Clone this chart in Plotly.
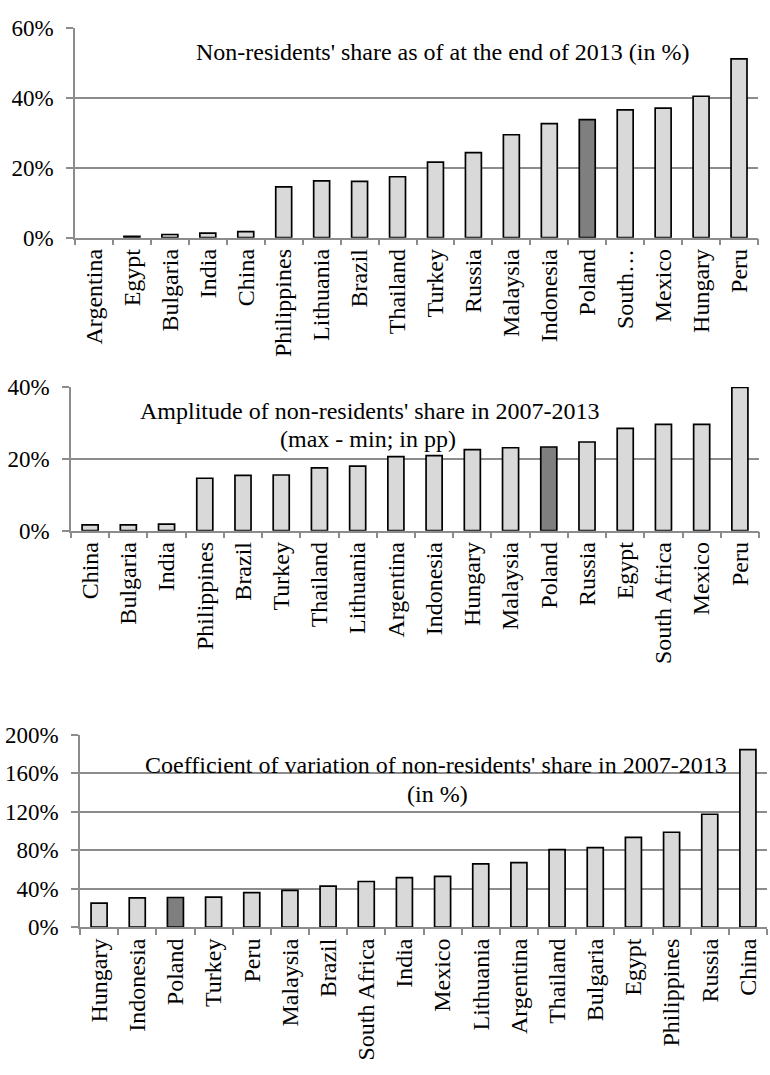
import plotly.graph_objects as go

# Non-residents' share at the end of 2013 (%)
share_countries = ["Argentina", "Egypt", "Bulgaria", "India", "China", "Philippines",
                   "Lithuania", "Brazil", "Thailand", "Turkey", "Russia", "Malaysia",
                   "Indonesia", "Poland", "South Africa", "Mexico", "Hungary", "Peru"]
share_values = [0.0, 0.4, 0.9, 1.3, 1.7, 14.5, 16.2, 16.1, 17.4, 21.6, 24.3, 29.4,
                32.6, 33.7, 36.5, 37.0, 40.4, 51.1]
share_ticktext = [c if c != "South Africa" else "South\u2026" for c in share_countries]

# Amplitude of non-residents' share 2007-2013 (max - min, pp)
amp_countries = ["China", "Bulgaria", "India", "Philippines", "Brazil", "Turkey",
                 "Thailand", "Lithuania", "Argentina", "Indonesia", "Hungary", "Malaysia",
                 "Poland", "Russia", "Egypt", "South Africa", "Mexico", "Peru"]
amp_values = [1.6, 1.6, 1.8, 14.6, 15.4, 15.5, 17.5, 18.0, 20.6, 20.9, 22.6, 23.1,
              23.3, 24.7, 28.5, 29.6, 29.6, 39.9]

# Coefficient of variation of non-residents' share 2007-2013 (%)
cv_countries = ["Hungary", "Indonesia", "Poland", "Turkey", "Peru", "Malaysia", "Brazil",
                "South Africa", "India", "Mexico", "Lithuania", "Argentina", "Thailand",
                "Bulgaria", "Egypt", "Philippines", "Russia", "China"]
cv_values = [25.1, 30.5, 30.9, 31.2, 36.0, 38.3, 42.7, 47.5, 51.6, 52.9, 65.8, 67.1,
             80.7, 82.8, 93.3, 98.7, 117.4, 184.5]

# y-axis ticks (%)
share_ticks = [0, 20, 40, 60]
amp_ticks = [0, 20, 40]
cv_ticks = [0, 40, 80, 120, 160, 200]

highlight = "Poland"

W, H = 770, 1075
FONT = "Liberation Serif, Times New Roman, serif"
GRID = "#8c8c8c"
FILL = "#d9d9d9"
FILL_HI = "#7f7f7f"


def px_x(x0, x1):
    return [x0 / W, x1 / W]


def px_y(top, bottom):
    return [1 - bottom / H, 1 - top / H]


panels = [
    # countries, values, category tick text, x-domain px, y-domain px, y ticks
    (share_countries, share_values, share_ticktext, (75, 758), (16, 231), share_ticks),
    (amp_countries, amp_values, amp_countries, (71, 759), (384, 531), amp_ticks),
    (cv_countries, cv_values, cv_countries, (80, 767), (740, 937), cv_ticks),
]

fig = go.Figure()
layout = {}
for i, (cats, vals, ttext, xd, yd, tv) in enumerate(panels, start=1):
    sfx = "" if i == 1 else str(i)
    colors = [FILL_HI if c == highlight else FILL for c in cats]
    # a zero-height bar leaves no visible outline
    widths = [1.7 if v > 0 else 0 for v in vals]
    fig.add_trace(go.Bar(
        x=cats, y=vals,
        xaxis="x" + sfx, yaxis="y" + sfx,
        marker=dict(color=colors, line=dict(color="black", width=widths)),
        showlegend=False, hoverinfo="x+y",
    ))
    layout["xaxis" + sfx] = dict(
        domain=px_x(*xd), anchor="y" + sfx,
        type="category", categoryorder="array", categoryarray=cats,
        tickmode="array", tickvals=cats, ticktext=ttext,
        tickangle=-90, tickson="boundaries", ticks="outside", ticklen=6,
        tickcolor=GRID, tickwidth=1.5,
        showline=True, linecolor=GRID, linewidth=1.5,
        showgrid=False, zeroline=False,
        tickfont=dict(family=FONT, size=24, color="black"),
    )
    layout["yaxis" + sfx] = dict(
        domain=px_y(*yd), anchor="x" + sfx, range=[tv[0], tv[-1]],
        tickmode="array", tickvals=tv, ticktext=[f"{t}%" for t in tv],
        ticks="outside", ticklen=7, tickcolor=GRID, tickwidth=1.5,
        ticklabelstandoff=8,
        showline=True, linecolor=GRID, linewidth=1.5,
        showgrid=True, gridcolor=GRID, gridwidth=1.5, zeroline=False,
        tickfont=dict(family=FONT, size=23, color="black"),
    )

titles = [
    ("Non-residents' share as of at the end of 2013 (in %)", 443, 41),
    ("Amplitude of non-residents' share in 2007-2013", 370, 408),
    ("(max - min; in pp)", 368, 437),
    ("Coefficient of variation of non-residents' share in 2007-2013", 436, 771),
    ("(in %)", 437, 801),
]
annotations = [
    dict(text=t, x=x / W, y=1 - y / H, xref="paper", yref="paper",
         xanchor="center", yanchor="middle", showarrow=False,
         font=dict(family=FONT, size=24, color="black"))
    for t, x, y in titles
]

fig.update_layout(
    width=W, height=H,
    margin=dict(l=0, r=0, t=0, b=0),
    paper_bgcolor="white", plot_bgcolor="white",
    bargap=0.58,
    annotations=annotations,
    **layout,
)

fig.write_html("out.html")
